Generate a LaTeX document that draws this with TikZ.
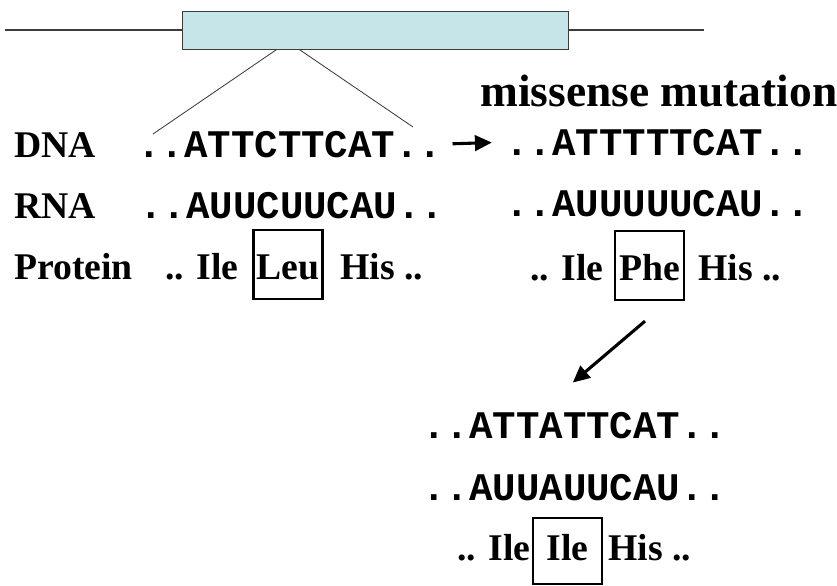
\documentclass[tikz,border=0pt]{standalone}
\usepackage{fontspec}
\setmainfont{Liberation Serif}
\newfontfamily\codefont{Liberation Mono}
\usetikzlibrary{arrows.meta}
\tikzset{
  lbl/.style={font=\fontsize{26.8}{30}\selectfont\bfseries, inner sep=0pt, anchor=base west},
  title/.style={font=\fontsize{32.3}{36}\selectfont\bfseries, inner sep=0pt, anchor=base west},
  seq/.style={font=\codefont\fontsize{27.8}{30}\selectfont\bfseries, inner sep=0pt, anchor=base west},
  aabox/.style={lbl, anchor=base, draw, line width=1.6pt, minimum width=1.73cm, text height=1.22cm, text depth=0.5cm},
  bigarrow/.style={line width=2.2pt, -{Triangle[length=12pt, width=11pt]}}
}
\begin{document}
\begin{tikzpicture}[x=0.025cm, y=-0.025cm]
\definecolor{exonfill}{RGB}{197,229,232}
\definecolor{linegray}{RGB}{60,60,60}
\useasboundingbox (0,0) rectangle (837,586);
\node[draw=linegray, fill=exonfill, minimum width=9.65cm, minimum height=0.95cm, inner sep=0pt] (exon) at (375,30) {};
\draw[linegray, line width=0.9pt] (5,30) -- (exon.west);
\draw[linegray, line width=0.9pt] (exon.east) -- (704,30);
\coordinate (cutL) at (153,134);
\coordinate (cutR) at (413,127);
\draw[linegray, line width=0.6pt] ([xshift=-2.45cm]exon.south) -- (cutL);
\draw[linegray, line width=0.6pt] ([xshift=-1.9cm]exon.south) -- (cutR);
\node[title] (missense) at (480,106) {missense mutation};
\node[lbl] (dnalbl) at (14,157) {DNA};
\node[lbl] (rnalbl) at (14,218) {RNA};
\node[lbl] (protlbl) at (14,279) {Protein};
\node[seq] (dnaL) at (137,157) {..ATTCTTCAT..};
\node[seq] (rnaL) at (139,218) {..AUUCUUCAU..};
\node[lbl] (ileL) at (165,279) {.. Ile};
\node[aabox] (leu) at (288,279) {Leu};
\node[lbl] (hisL) at (340,279) {His ..};
\node[seq] (dnaR) at (505,155) {..ATTTTTCAT..};
\node[seq] (rnaR) at (505,216) {..AUUUUUCAU..};
\node[lbl] (ileR) at (530,280) {.. Ile};
\node[aabox] (phe) at (649.5,280) {Phe};
\node[lbl] (hisR) at (698,280) {His ..};
\node[seq] (dnaB) at (422,438) {..ATTATTCAT..};
\node[seq] (rnaB) at (422,500) {..AUUAUUCAU..};
\node[lbl] (ileB) at (457,560) {.. Ile};
\node[aabox, text height=1.05cm, text depth=0.6cm] (ile) at (567.5,560) {Ile};
\node[lbl] (hisB) at (608,560) {His ..};
\draw[bigarrow, shorten <=0.25cm, shorten >=0.33cm] (dnaL.east) -- (dnaR.west);
\draw[bigarrow] ([shift={(-4.5,20)}]phe.south) -- ([shift={(-2,-29)}]dnaB.north);
\end{tikzpicture}
\end{document}
